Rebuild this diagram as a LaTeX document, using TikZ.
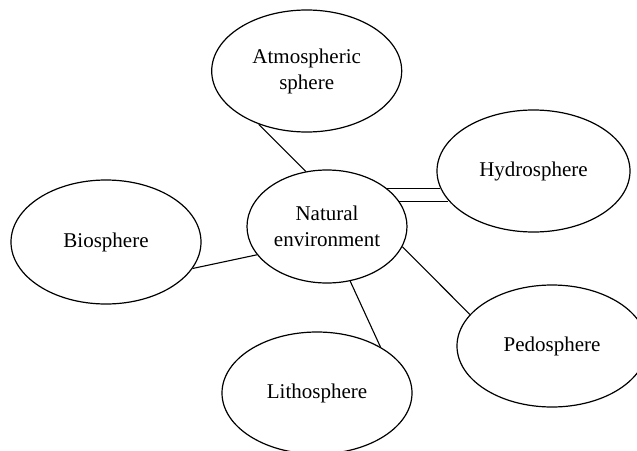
\documentclass[tikz,border=0pt]{standalone}
\usepackage{fontspec}
\setmainfont{Liberation Serif}
\usetikzlibrary{shapes.geometric}
\begin{document}
\begin{tikzpicture}[x=1pt,y=-1pt,
  bub/.style={draw,ellipse,line width=1.2pt,inner sep=0pt,align=center,
    font=\fontsize{21}{26}\selectfont},
  link/.style={line width=1.1pt}]
\useasboundingbox (0,0) rectangle (637,450);
\node[bub,minimum width=190pt,minimum height=122pt] (atm) at (306.7,71) {Atmospheric\\sphere};
\node[bub,minimum width=193pt,minimum height=122pt] (hyd) at (533.5,171) {Hydrosphere};
\node[bub,minimum width=160pt,minimum height=113pt] (nat) at (327,226.5) {Natural\\environment};
\node[bub,minimum width=190pt,minimum height=124pt] (bio) at (106,242) {Biosphere};
\node[bub,minimum width=190pt,minimum height=122pt] (lit) at (317,393) {Lithosphere};
\node[bub,minimum width=190pt,minimum height=122pt] (ped) at (552,346) {Pedosphere};
\draw[link] (atm.-132) -- (nat.111.4);
\draw[link] (nat.32) -- (nat.32 -| hyd.190.5);
\draw[link] (nat.19.5) -- (nat.19.5 -| hyd.199.3);
\draw[link] (bio.-17.5) -- (nat.-158);
\draw[link] (nat.-67.4) -- (lit.36.3);
\draw[link] (nat.-15.1) -- (ped.159.3);
\end{tikzpicture}
\end{document}
